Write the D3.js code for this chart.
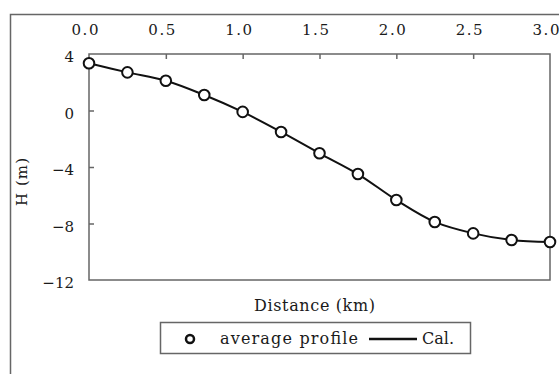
<!DOCTYPE html>
<html><head><meta charset="utf-8">
<script src="https://cdn.jsdelivr.net/npm/d3@7"></script>
<style>body{margin:0;background:#fff}svg{display:block}</style>
</head><body>
<svg id="c" width="559" height="374"></svg>
<script>
const distance = [0, 0.25, 0.5, 0.75, 1.0, 1.25, 1.5, 1.75, 2.0, 2.25, 2.5, 2.75, 3.0];
const avgProfile = [3.34, 2.70, 2.11, 1.10, -0.10, -1.52, -3.03, -4.50, -6.34, -7.89, -8.70, -9.17, -9.31];
const calValues = [3.34, 2.70, 2.11, 1.10, -0.10, -1.52, -3.03, -4.50, -6.34, -7.89, -8.70, -9.17, -9.31];
const xTicks = [0, 0.5, 1.0, 1.5, 2.0, 2.5, 3.0];
const yTicks = [4, 0, -4, -8, -12];

const svg = d3.select("#c");
const L = 89, R = 550, T = 54, B = 280;
const x = d3.scaleLinear().domain([0, 3]).range([L, R]);
const y = d3.scaleLinear().domain([-12, 4]).range([B, T]);
const serif = "'DejaVu Serif', 'Liberation Serif', serif";
const frame = "#666";
const ink = "#1a1a1a";

// outer frame (left + top only visible)
svg.append("path").attr("d", `M10.5,374 V14.5 H559`).attr("fill", "none")
  .attr("stroke", frame).attr("stroke-width", 1.5);

// plot box
svg.append("rect").attr("x", L).attr("y", T).attr("width", R - L).attr("height", B - T)
  .attr("fill", "none").attr("stroke", frame).attr("stroke-width", 1.5);

// top axis
const xa = svg.append("g").attr("transform", `translate(0,${T})`)
  .call(d3.axisTop(x).tickValues(xTicks).tickSize(-5).tickPadding(19)
    .tickFormat(d => d.toFixed(1)));
xa.select(".domain").remove();
xa.selectAll("line").attr("stroke", frame).attr("stroke-width", 1.5);
xa.selectAll("text").attr("font-family", serif).attr("font-size", 15)
  .attr("fill", ink).attr("dx", -4.5).attr("dy", 0)
  .attr("textLength", 27).attr("lengthAdjust", "spacing");
xa.selectAll(".tick").filter(d => d === 0 || d === 3).select("line").remove();

// left axis
const ya = svg.append("g").attr("transform", `translate(${L},0)`)
  .call(d3.axisLeft(y).tickValues(yTicks).tickSize(-5).tickPadding(15)
    .tickFormat(d => d < 0 ? "\u2212" + Math.abs(d) : String(d)));
ya.select(".domain").remove();
ya.selectAll("line").attr("stroke", frame).attr("stroke-width", 1.5);
ya.selectAll("text").attr("font-family", serif).attr("font-size", 15).attr("fill", ink)
  .attr("dy", "0.5em");
ya.selectAll(".tick").filter(d => d === 4 || d === -12).select("line").remove();

// y label
svg.append("text").attr("transform", "translate(27,182) rotate(-90)")
  .attr("text-anchor", "middle").attr("font-family", serif).attr("font-size", 15)
  .attr("fill", ink).attr("textLength", 48).attr("lengthAdjust", "spacing").text("H (m)");

// x label
svg.append("text").attr("x", 254).attr("y", 311)
  .attr("font-family", serif).attr("font-size", 16).attr("fill", ink)
  .attr("textLength", 121).attr("lengthAdjust", "spacing").text("Distance (km)");

// Cal line
const line = d3.line().x((d, i) => x(distance[i])).y(d => y(d)).curve(d3.curveCatmullRom);
svg.append("path").datum(calValues).attr("d", line).attr("fill", "none")
  .attr("stroke", "#111").attr("stroke-width", 2);

// markers
svg.append("g").selectAll("circle").data(avgProfile).join("circle")
  .attr("cx", (d, i) => x(distance[i])).attr("cy", d => y(d)).attr("r", 5.3)
  .attr("fill", "#fff").attr("stroke", "#111").attr("stroke-width", 2);

// legend
const lg = svg.append("g");
lg.append("rect").attr("x", 160.5).attr("y", 322.5).attr("width", 310).attr("height", 31)
  .attr("fill", "#fff").attr("stroke", frame).attr("stroke-width", 1.5);
lg.append("circle").attr("cx", 190).attr("cy", 339).attr("r", 4).attr("fill", "#fff")
  .attr("stroke", "#111").attr("stroke-width", 2.5);
lg.append("text").attr("x", 220).attr("y", 344).attr("font-family", serif).attr("font-size", 16)
  .attr("fill", ink).attr("textLength", 138).attr("lengthAdjust", "spacing").text("average profile");
lg.append("line").attr("x1", 369).attr("x2", 417).attr("y1", 339).attr("y2", 339)
  .attr("stroke", "#111").attr("stroke-width", 2.5);
lg.append("text").attr("x", 422).attr("y", 344).attr("font-family", serif).attr("font-size", 16)
  .attr("fill", ink).attr("textLength", 32).attr("lengthAdjust", "spacing").text("Cal.");
</script>
</body></html>
